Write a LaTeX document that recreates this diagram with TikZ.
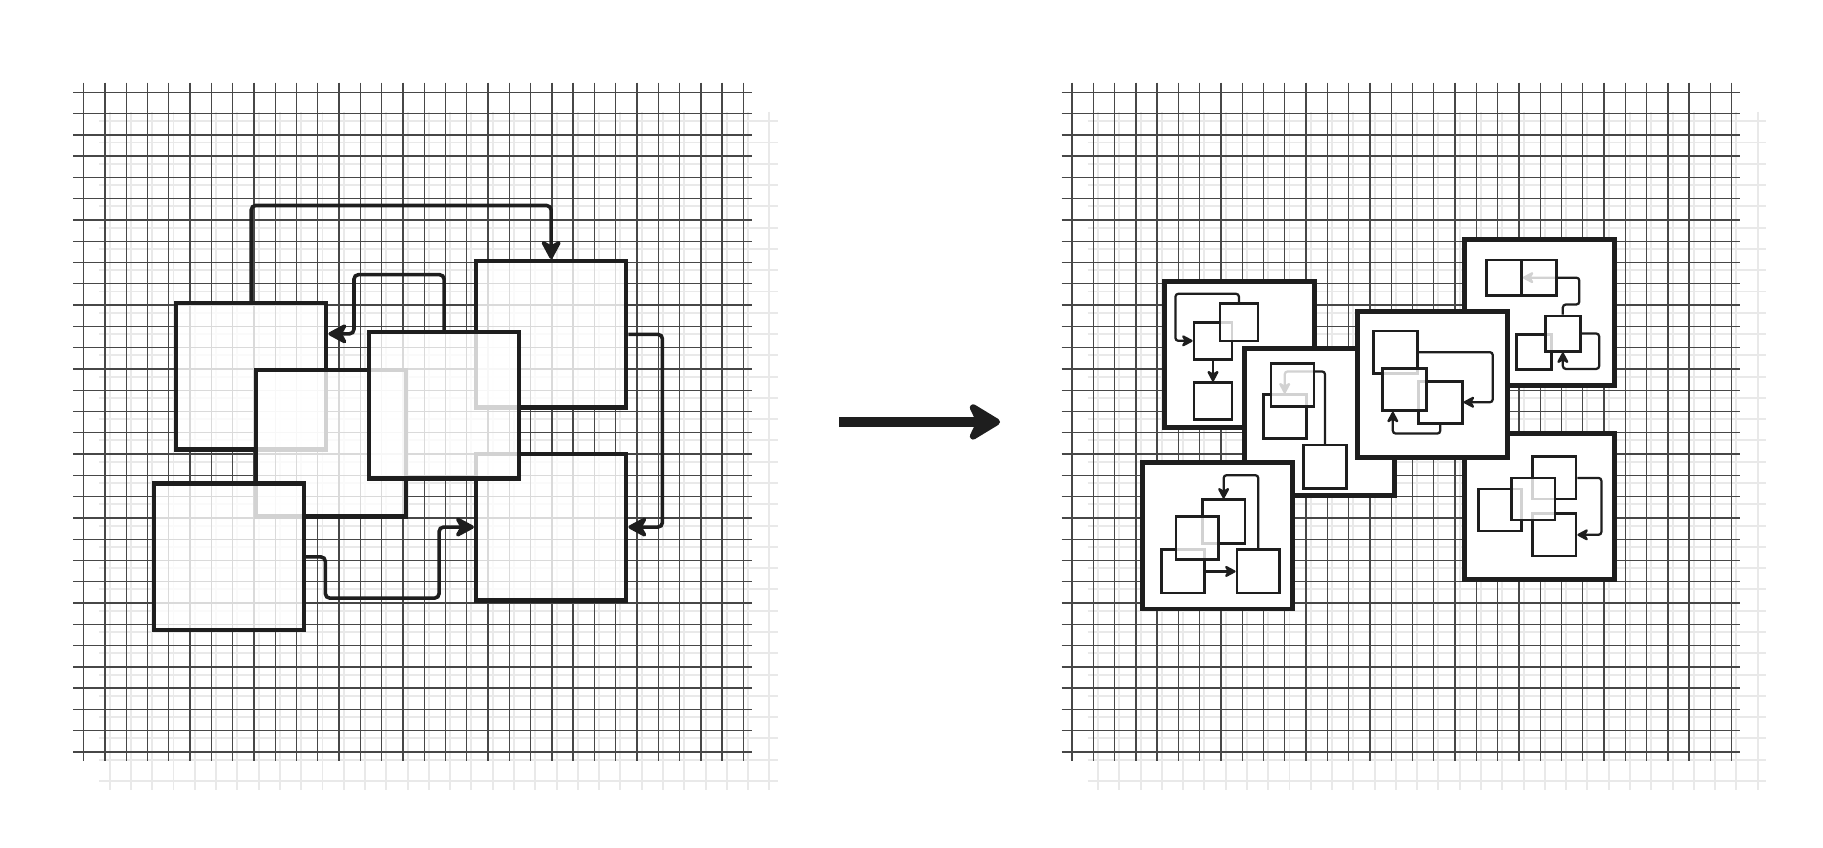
\documentclass[tikz,border=0pt]{standalone}
\usetikzlibrary{arrows.meta}

\definecolor{ink}{HTML}{1E1E1E}
\definecolor{gridline}{HTML}{474747}
\definecolor{shadowline}{HTML}{E9E9E9}

\begin{document}
\begin{tikzpicture}[x=0.5cm,y=-0.5cm,
  >={Stealth[length=15pt,width=16pt,inset=4.5pt,round]},
  maingrid/.style={draw=gridline,line width=0.9pt},
  shadowgrid/.style={draw=shadowline,line width=1.3pt},
  module/.style={draw=ink,line width=3pt,fill=white,fill opacity=0.8,inner sep=0pt,minimum width=3.525cm,minimum height=3.44cm},
  flow/.style={->,draw=ink,line width=2.4pt,rounded corners=3pt},
  panel/.style={draw=ink,line width=3.3pt,fill=white,inner sep=0pt,minimum width=3.52cm,minimum height=3.44cm},
  item/.style 2 args={draw=ink,line width=1.8pt,fill=white,fill opacity=0.8,inner sep=0pt,minimum width=#1,minimum height=#2},
  link/.style={-{Stealth[length=9pt,width=9.5pt,inset=2.8pt,round]},draw=ink,line width=1.5pt,rounded corners=2pt},
  bigarrow/.style={-{Stealth[length=25pt,width=30pt,inset=7pt,round]},draw=ink,line width=6.2pt}]

\useasboundingbox (-3.933,-4.337) rectangle (81.73,35.47);

\foreach \px in {0,46.44} {
  \begin{scope}[shift={(\px,0)}]
    \foreach \i in {0,...,31} {
      \draw[shadowgrid] (\i+1.22,0.91) -- (\i+1.22,32.78);
      \draw[shadowgrid] (0.73,\i+1.36) -- (32.63,\i+1.36);
    }
    \foreach \i in {0,...,31} {
      \draw[maingrid] (\i,-0.45) -- (\i,31.42);
      \draw[maingrid] (-0.49,\i) -- (31.41,\i);
    }
  \end{scope}
}

\node[module] (m1) at (7.87,13.345) {};
\node[module] (m2) at (11.63,16.485) {};
\node[module] (m6) at (6.825,21.83) {};
\node[module] (m4) at (21.965,11.375) {};
\node[module] (m5) at (21.965,20.43) {};
\node[module] (m3) at (16.935,14.715) {};

\draw[flow] (m1.north) -- ++(0,-4.48) -| (m4.north);
\draw[flow] (m3.north) -- ++(0,-2.6) -| (12.7,11.35) -- (m1.east |- 0,11.35);
\draw[flow] (m4.east) -- ++(1.6,0) |- (m5.east);
\draw[flow] (m6.east) -- ++(0.9,0) |- (16.7,23.77) |- (m5.west);

\coordinate (gostart) at (35.51,15.49);
\coordinate (goend) at (43.06,15.49);
\draw[bigarrow] (gostart) -- (goend);

\begin{scope}[shift={(46.44,0)}]

\node[panel] (p1) at (7.865,12.33) {};
\node[item={0.895cm}{0.87cm}] (p1a) at (6.625,11.68) {};
\node[item={0.895cm}{0.87cm}] (p1b) at (7.845,10.81) {};
\node[item={0.895cm}{0.87cm}] (p1c) at (6.625,14.52) {};
\draw[link] (p1b.north) -- ++(0,-0.41) -| (4.86,11.68) -- (p1a.west);
\draw[link] (p1a.south) -- (p1c.north);

\node[panel] (p2) at (11.64,15.495) {};
\node[item={1.01cm}{1.02cm}] (p2b) at (9.995,15.235) {};
\node[item={1.01cm}{1.02cm}] (p2c) at (11.89,17.6) {};
\draw[link] (p2c.north) -- ++(0,-3.4) -| (p2b.north);
\node[item={1.01cm}{1.02cm}] (p2a) at (10.36,13.76) {};

\node[panel] (p6) at (6.835,20.84) {};
\node[item={1.005cm}{1.02cm}] (p6a) at (7.125,20.17) {};
\node[item={1.005cm}{1.02cm}] (p6c) at (5.215,22.515) {};
\node[item={1.005cm}{1.02cm}] (p6b) at (5.885,20.94) {};
\node[item={1.005cm}{1.02cm}] (p6d) at (8.755,22.515) {};
\draw[link] (p6d.north) -- ++(0,-3.44) -| (p6a.north);
\draw[link] (p6c.east) -- (p6d.west);

\node[panel] (p4) at (21.955,10.355) {};
\node[item={0.825cm}{0.83cm}] (p4a) at (20.295,8.71) {};
\node[item={0.825cm}{0.83cm}] (p4d) at (21.72,12.2) {};
\node[item={0.825cm}{0.83cm}] (p4c) at (23.065,11.335) {};
\draw[link] (p4c.north) -- ++(0,-0.47) -| (23.84,8.71) -- (p4a.east);
\node[item={0.825cm}{0.83cm}] (p4b) at (21.945,8.71) {};
\draw[link] (p4c.east) -- ++(0.82,0) |- (p4c.south |- 0,13) -- (p4c.south);

\node[panel] (p5) at (21.955,19.465) {};
\node[item={1.02cm}{0.99cm}] (p5a) at (20.105,19.625) {};
\node[item={1.02cm}{0.99cm}] (p5b) at (22.665,18.12) {};
\node[item={1.02cm}{0.99cm}] (p5d) at (22.665,20.795) {};
\node[item={1.02cm}{0.99cm}] (p5c) at (21.675,19.115) {};
\draw[link] (p5b.east) -- ++(1.13,0) |- (p5d.east);

\node[panel] (p3) at (16.935,13.735) {};
\node[item={1.035cm}{0.99cm}] (p3a) at (15.205,12.21) {};
\node[item={1.035cm}{0.99cm}] (p3c) at (17.305,14.565) {};
\node[item={1.035cm}{0.99cm}] (p3b) at (15.635,13.96) {};
\draw[link] (p3a.east) -- ++(3.47,0) |- (p3c.east);
\draw[link] (p3c.south) -- ++(0,0.42) -| ([xshift=-0.28cm]p3b.south);

\end{scope}

\end{tikzpicture}
\end{document}
